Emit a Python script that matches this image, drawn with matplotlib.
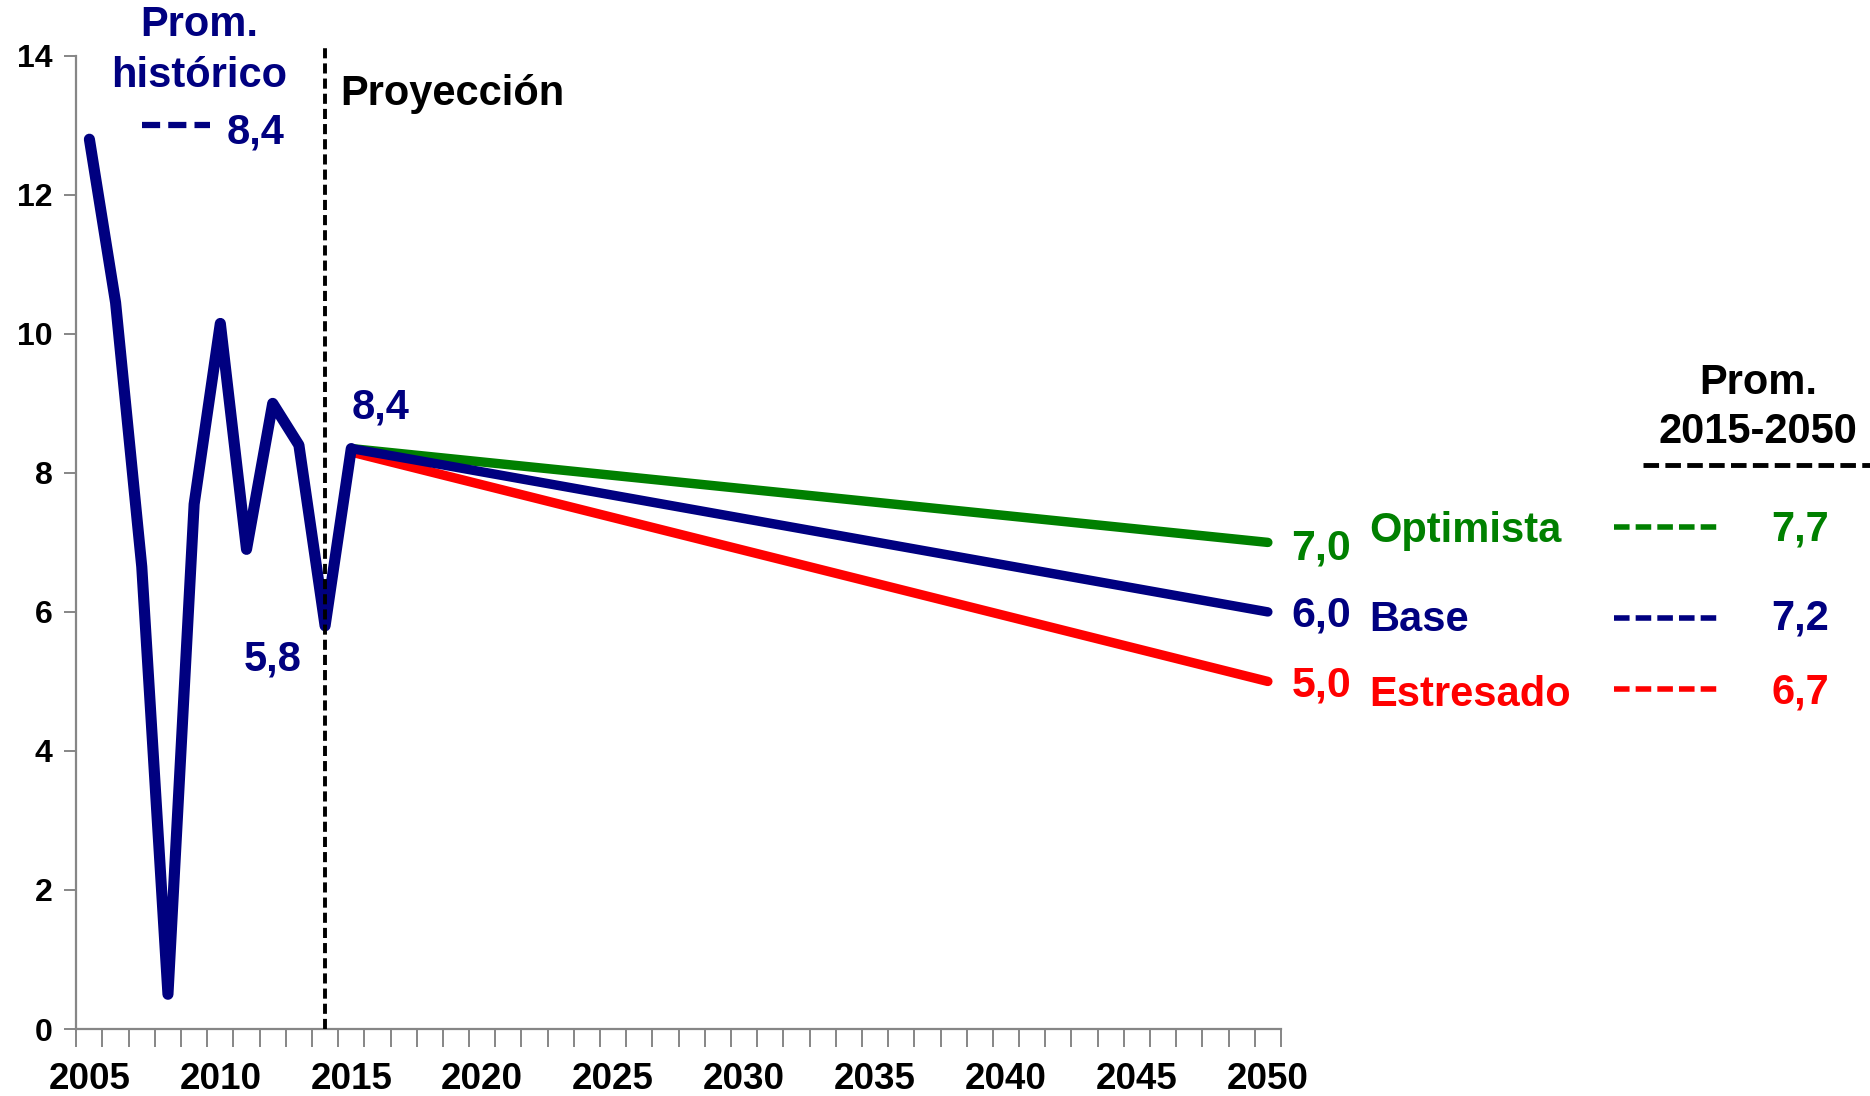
import numpy as np
import matplotlib
matplotlib.use("Agg")
import matplotlib.pyplot as plt
from matplotlib.lines import Line2D

plt.rcParams['font.family'] = ['Liberation Sans', 'DejaVu Sans']
plt.rcParams['font.weight'] = 'bold'

# historical series
hist_years = [2005, 2006, 2007, 2008, 2009, 2010, 2011, 2012, 2013, 2014, 2015]
hist_vals = [12.8, 10.45, 6.65, 0.5, 7.55, 10.15, 6.9, 9.0, 8.4, 5.8, 8.35]

# projections 2015-2050 (start / end)
proj_years = [2015, 2050]
optimista = [8.35, 7.0]
base = [8.35, 6.0]
estresado = [8.3, 5.0]

scen_names = ['Optimista', 'Base', 'Estresado']
scen_end = ['7,0', '6,0', '5,0']
scen_avg = ['7,7', '7,2', '6,7']
hist_avg = '8,4'

NAVY = '#000080'
GREEN = '#008000'
RED = '#FF0000'
GRAY = '#868686'

fig = plt.figure(figsize=(18.7, 10.96), dpi=100)
ax = fig.add_axes([0.0408, 0.0611, 0.6442, 0.888])


def fp(x, y):
    # reference pixel (1568x919 preview) -> figure fraction
    return x / 1568, 1 - y / 919


ax.plot(proj_years, optimista, color=GREEN, lw=6.8, solid_capstyle='round', zorder=3)
ax.plot(proj_years, estresado, color=RED, lw=6.8, solid_capstyle='round', zorder=3)
ax.plot(proj_years, base, color=NAVY, lw=6.8, solid_capstyle='round', zorder=4)
ax.plot(hist_years, hist_vals, color=NAVY, lw=8, solid_capstyle='round',
        solid_joinstyle='round', zorder=5)

ax.axvline(2014, ymin=0, ymax=1.01, color='black', lw=2.8, ls=(0, (2.6, 1.3)),
           clip_on=False, zorder=6)

ax.set_xlim(2004.5, 2050.5)
ax.set_ylim(0, 14)
ax.set_yticks(np.arange(0, 15, 2))
ax.set_xticks(np.arange(2005, 2051, 5))
ax.set_xticks(np.arange(2004.5, 2051, 1), minor=True)
ax.tick_params(axis='x', which='major', length=0, pad=24, labelsize=26.5)
ax.tick_params(axis='x', which='minor', length=13, width=1.4, color=GRAY)
ax.tick_params(axis='y', length=9, width=1.4, color=GRAY, labelsize=23, pad=8)
for lab in ax.get_xticklabels() + ax.get_yticklabels():
    lab.set_fontweight('bold')

for s in ['top', 'right']:
    ax.spines[s].set_visible(False)
for s in ['left', 'bottom']:
    ax.spines[s].set_color(GRAY)
    ax.spines[s].set_linewidth(1.6)

fs = 30
dash = (0, (2.8, 1.1))
# historical average block
fig.text(*fp(167, 21), 'Prom.', color=NAVY, fontsize=fs, ha='center', va='center')
fig.text(*fp(167, 64), 'histórico', color=NAVY, fontsize=fs, ha='center', va='center')
x0, y0 = fp(119, 105)
x1, _ = fp(176, 105)
fig.add_artist(Line2D([x0, x1], [y0, y0], color=NAVY, lw=4.5, ls=(0, (2.9, 1.3))))
fig.text(*fp(190, 111), hist_avg, color=NAVY, fontsize=fs, ha='left', va='center')

fig.text(*fp(285, 79), 'Proyección', color='black', fontsize=fs, ha='left', va='center')
fig.text(*fp(295, 342), '8,4', color=NAVY, fontsize=fs, ha='left', va='center')
fig.text(*fp(204, 553), '5,8', color=NAVY, fontsize=fs, ha='left', va='center')

# scenario labels on the right
colors = [GREEN, NAVY, RED]
end_y = [460, 516, 575]
name_y = [445, 520, 583]
dash_y = [442, 518, 578]
avg_y = [444, 519, 581]
for i in range(3):
    fig.text(*fp(1083, end_y[i]), scen_end[i], color=colors[i], fontsize=31,
             ha='left', va='center')
    fig.text(*fp(1148, name_y[i]), scen_names[i], color=colors[i], fontsize=fs,
             ha='left', va='center')
    x0, y0 = fp(1353, dash_y[i])
    x1, _ = fp(1443, dash_y[i])
    fig.add_artist(Line2D([x0, x1], [y0, y0], color=colors[i], lw=4, ls=dash))
    fig.text(*fp(1485, avg_y[i]), scen_avg[i], color=colors[i], fontsize=fs,
             ha='left', va='center')

fig.text(*fp(1474, 321), 'Prom.', color='black', fontsize=fs, ha='center', va='center')
fig.text(*fp(1474, 362), '2015-2050', color='black', fontsize=fs, ha='center', va='center')
x0, y0 = fp(1378, 390)
x1, _ = fp(1568, 390)
fig.add_artist(Line2D([x0, x1], [y0, y0], color='black', lw=3.5, ls=(0, (3.2, 1.3))))

fig.savefig('out.png', dpi=100)
